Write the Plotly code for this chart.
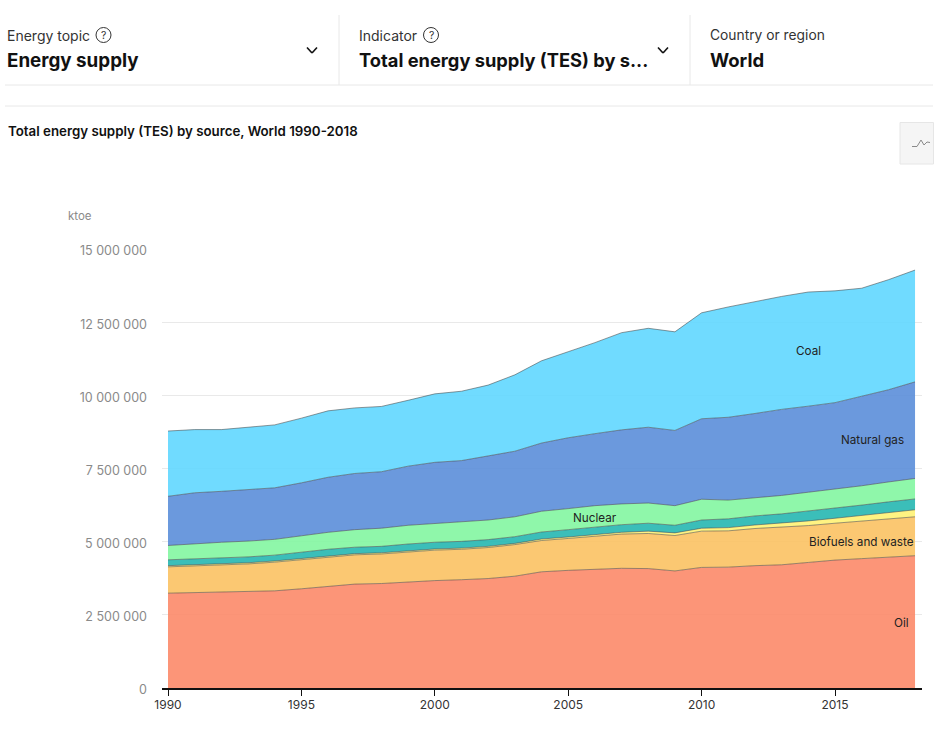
import plotly.graph_objects as go

W, H = 939, 731
L, R, T, B = 162, 922, 249, 688  # plot area in pixels
years = list(range(1990, 2019))
source_names = ["Oil", "Biofuels and waste", "Renewables", "Hydro", "Nuclear", "Natural gas", "Coal"]

# million ktoe
oil = [3.24,3.26,3.28,3.29,3.32,3.39,3.47,3.55,3.57,3.63,3.67,3.70,3.74,3.82,3.97,4.02,4.06,4.09,4.08,4.00,4.12,4.13,4.18,4.21,4.29,4.37,4.42,4.48,4.52]
biofuels = [0.90,0.91,0.93,0.95,0.98,1.00,1.01,1.00,1.01,1.02,1.04,1.04,1.06,1.08,1.07,1.09,1.13,1.17,1.20,1.21,1.24,1.24,1.27,1.28,1.26,1.26,1.28,1.30,1.33]
renewables = [.04,.04,.04,.04,.04,.04,.04,.04,.04,.04,.04,.04,.04,.04,.05,.05,.06,.06,.08,.09,.10,.11,.12,.14,.16,.17,.20,.22,.24]
hydro = [.20,.20,.20,.20,.20,.21,.22,.22,.22,.23,.23,.23,.23,.23,.24,.25,.25,.26,.27,.26,.28,.30,.31,.32,.34,.34,.35,.36,.37]
nuclear = [.49,.52,.53,.54,.54,.56,.58,.60,.62,.64,.64,.65,.67,.68,.71,.72,.73,.71,.69,.67,.71,.64,.62,.63,.64,.65,.66,.68,.70]
gas = [1.68,1.74,1.74,1.77,1.76,1.81,1.88,1.92,1.93,2.02,2.09,2.11,2.18,2.24,2.33,2.42,2.46,2.53,2.59,2.57,2.75,2.83,2.88,2.94,2.94,2.96,3.06,3.15,3.30]
coal = [2.23,2.16,2.11,2.13,2.15,2.21,2.27,2.24,2.23,2.25,2.34,2.37,2.43,2.61,2.81,2.94,3.11,3.32,3.38,3.37,3.62,3.77,3.82,3.86,3.90,3.82,3.69,3.76,3.82]
series = [oil, biofuels, renewables, hydro, nuclear, gas, coal]
colors = ["rgba(252,138,105,0.9)", "rgba(251,194,99,0.9)", "rgba(255,242,116,0.9)", "rgba(38,183,177,0.9)",
          "rgba(131,246,161,0.9)", "rgba(91,142,217,0.9)", "rgba(97,215,255,0.9)"]

y_ticks = [0, 2500000, 5000000, 7500000, 10000000, 12500000, 15000000]
y_labels = ["0", "2 500 000", "5 000 000", "7 500 000", "10 000 000", "12 500 000", "15 000 000"]
x_ticks = [1990, 1995, 2000, 2005, 2010, 2015]

FONT = "Inter, Roboto, sans-serif"

def px(x): return (x - L) / (R - L)
def py(y): return (B - y) / (B - T)

fig = go.Figure()
for name, vals, col in zip(source_names, series, colors):
    fig.add_trace(go.Scatter(x=years, y=[v * 1e6 for v in vals], name=name, mode="lines",
                             stackgroup="one", fillcolor=col,
                             line=dict(color="rgba(70,70,70,0.55)", width=1)))

def text(x, y, s, size=14, color="#333", weight=400, anchor="left"):
    fig.add_annotation(xref="x domain", yref="y domain", x=px(x), y=py(y), text=s, showarrow=False,
                       xanchor=anchor, yanchor="middle", borderpad=0, borderwidth=0,
                       font=dict(family=FONT, size=size, color=color, weight=weight))

def line(x0, y0, x1, y1, color="#e8e8e8", width=1):
    fig.add_shape(type="line", xref="x domain", yref="y domain", x0=px(x0), y0=py(y0), x1=px(x1), y1=py(y1),
                  line=dict(color=color, width=width))

# Header
line(5, 85, 933, 85); line(5, 106, 933, 106)
line(339, 15, 339, 85); line(690, 15, 690, 85)
text(7, 35, "Energy topic", 14)
text(7, 60, "Energy supply", 18.8, "#111", 700)
text(359, 35, "Indicator", 14)
text(359, 60, "Total energy supply (TES) by s...", 18.3, "#111", 700)
text(710, 35, "Country or region", 13.8)
text(710, 60, "World", 18.5, "#111", 700)
for cx in (103.5, 431):
    fig.add_shape(type="circle", xref="x domain", yref="y domain", x0=px(cx - 7.5), x1=px(cx + 7.5),
                  y0=py(35 + 7.5), y1=py(35 - 7.5), line=dict(color="#333", width=1))
    text(cx, 35.5, "?", 10.5, "#333", 400, "center")
for cx in (312, 663):
    line(cx - 5, 47.5, cx, 53, "#111", 1.6)
    line(cx, 53, cx + 5, 47.5, "#111", 1.6)

text(8, 131, "Total energy supply (TES) by source, World 1990-2018", 13.3, "#111", 600)

# Chart-type button
fig.add_shape(type="rect", xref="x domain", yref="y domain", x0=px(900), x1=px(933.5), y0=py(164), y1=py(122.5),
              fillcolor="#f5f5f5", line=dict(color="#e6e6e6", width=1))
for a, b, c, d in [(912, 146.5, 917, 146.5), (917, 146.5, 921, 140), (921, 140, 924, 145),
                   (924, 145, 927, 142), (927, 142, 930, 142.5)]:
    line(a, b, c, d, "#8a8a8a", 1)

text(68, 216, "ktoe", 11.5, "#8a8a8a")

# Series labels placed in data coordinates
for lab, yr, val in [("Coal", 2014.0, 11.51e6), ("Natural gas", 2016.42, 8.47e6), ("Nuclear", 2006.0, 5.81e6),
                     ("Biofuels and waste", 2016.0, 4.99e6), ("Oil", 2017.5, 2.22e6)]:
    fig.add_annotation(x=yr, y=val, text=lab, showarrow=False,
                       font=dict(family=FONT, size=11.7, color="#222"))

x0_year = 1990 + (L - 168.0) / 26.68
x1_year = 1990 + (R - 168.0) / 26.68
fig.update_layout(
    width=W, height=H, margin=dict(l=L, r=W - R, t=T, b=H - B), autosize=False,
    paper_bgcolor="white", plot_bgcolor="white", showlegend=False,
    font=dict(family=FONT),
    xaxis=dict(range=[x0_year, x1_year], tickvals=x_ticks, ticktext=[str(t) for t in x_ticks],
               showgrid=False, zeroline=False, showline=True, linecolor="#111", linewidth=1.5,
               ticks="outside", ticklen=6, tickcolor="#111", tickwidth=1, ticklabelstandoff=-1,
               tickfont=dict(size=12, color="#333", family=FONT), layer="above traces"),
    yaxis=dict(range=[0, 15e6], tickvals=y_ticks, ticktext=y_labels,
               showgrid=True, gridcolor="#e9e9e9", gridwidth=1, zeroline=False, showline=False,
               ticks="", tickfont=dict(size=12.5, color="#8a8a8a", family=FONT),
               ticklabelstandoff=14, ticklabelshift=2),
)
fig.write_html("out.html", config={"displayModeBar": False},
               post_script="document.body.style.margin='0';document.documentElement.style.overflow='hidden';")
